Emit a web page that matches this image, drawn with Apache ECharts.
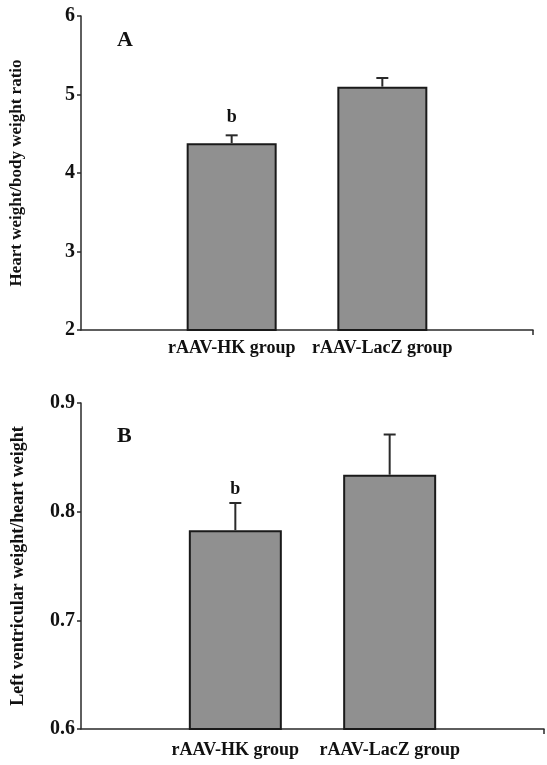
<!DOCTYPE html>
<html>
<head>
<meta charset="utf-8">
<script src="https://cdn.jsdelivr.net/npm/echarts@6/dist/echarts.min.js"></script>
<style>
html,body{margin:0;padding:0;background:#fff;}
#chart{width:547px;height:765px;}
</style>
</head>
<body>
<div id="chart"></div>
<script>
// Data
const categories = ['', 'rAAV-HK group', 'rAAV-LacZ group', ''];
const heartBodyRatio = ['-', 4.38, 5.10, '-'];
const heartBodyErr = [0, 0.10, 0.11, 0];
const lvHeartRatio = ['-', 0.783, 0.834, '-'];
const lvHeartErr = [0, 0.025, 0.037, 0];
const sigMarks = ['', 'b', '', ''];
const ticksA = [2, 3, 4, 5, 6];
const ticksB = [0.6, 0.7, 0.8, 0.9];

const FONT = '"Liberation Serif", "Times New Roman", serif';
const AXIS_COLOR = '#2a2a2a';
const BAR_COLOR = '#909090';

function errSeries(xi, yi, vals, errs, labelY) {
  return {
    type: 'custom',
    xAxisIndex: xi, yAxisIndex: yi,
    z: 5,
    data: vals.map((v, i) => [i, v, errs[i]]),
    renderItem: function (params, api) {
      const idx = api.value(0);
      const v = api.value(1);
      if (isNaN(v)) return null;
      const e = api.value(2);
      const base = api.coord([idx, v]);
      const top = api.coord([idx, v + e]);
      const children = [
        {type: 'line', shape: {x1: base[0], y1: base[1], x2: top[0], y2: top[1]},
         style: {stroke: AXIS_COLOR, lineWidth: 2}},
        {type: 'line', shape: {x1: top[0] - 6, y1: top[1], x2: top[0] + 6, y2: top[1]},
         style: {stroke: AXIS_COLOR, lineWidth: 2}}
      ];
      const mark = sigMarks[params.dataIndex];
      if (mark) {
        children.push({type: 'text', x: top[0], y: top[1] - labelY,
          style: {text: mark, font: 'bold 18px ' + FONT, fill: '#111', align: 'center', verticalAlign: 'middle'}});
      }
      return {type: 'group', children: children};
    }
  };
}

function xAxisDef(gi, margin) {
  return {
    type: 'category', gridIndex: gi, data: categories, boundaryGap: false,
    axisLine: {lineStyle: {color: AXIS_COLOR, width: 1.5}},
    axisTick: {show: true, interval: function (i) { return i === 3; }, length: 5, lineStyle: {color: AXIS_COLOR, width: 1.5}},
    axisLabel: {color: '#111', fontFamily: FONT, fontWeight: 'bold', fontSize: 18, margin: margin, interval: 0},
    splitLine: {show: false}
  };
}

function yAxisDef(gi, min, max, interval, name, nameGap, nameSize, dec) {
  return {
    type: 'value', gridIndex: gi, min: min, max: max, interval: interval,
    name: name, nameLocation: 'middle', nameGap: nameGap, nameRotate: 90,
    nameTextStyle: {color: '#111', fontFamily: FONT, fontWeight: 'bold', fontSize: nameSize},
    axisLine: {show: true, lineStyle: {color: AXIS_COLOR, width: 1.5}},
    axisTick: {show: true, length: 4, lineStyle: {color: AXIS_COLOR, width: 1.5}},
    axisLabel: {color: '#111', fontFamily: FONT, fontWeight: 'bold', fontSize: 20, margin: 6,
      formatter: v => dec ? v.toFixed(1) : String(v)},
    splitLine: {show: false}
  };
}

const chart = echarts.init(document.getElementById('chart'), null, {renderer: 'canvas'});
chart.setOption({
  backgroundColor: '#fff',
  animation: false,
  title: [
    {text: 'A', left: 112, top: 24, textStyle: {fontFamily: FONT, fontWeight: 'bold', fontSize: 22, color: '#111'}},
    {text: 'B', left: 112, top: 420, textStyle: {fontFamily: FONT, fontWeight: 'bold', fontSize: 22, color: '#111'}}
  ],
  grid: [
    {left: 81, top: 16, width: 452, height: 314},
    {left: 81, top: 403, width: 468, height: 326}
  ],
  xAxis: [xAxisDef(0, 9), xAxisDef(1, 12)],
  yAxis: [
    yAxisDef(0, ticksA[0], ticksA[ticksA.length - 1], 1, 'Heart weight/body weight ratio', 56, 17, false),
    yAxisDef(1, ticksB[0], ticksB[ticksB.length - 1], 0.1, 'Left ventricular weight/heart weight', 54, 18, true)
  ],
  series: [
    {type: 'bar', xAxisIndex: 0, yAxisIndex: 0, data: heartBodyRatio, barWidth: 90,
     itemStyle: {color: BAR_COLOR, borderColor: '#1a1a1a', borderWidth: 2}},
    {type: 'bar', xAxisIndex: 1, yAxisIndex: 1, data: lvHeartRatio, barWidth: 93,
     itemStyle: {color: BAR_COLOR, borderColor: '#1a1a1a', borderWidth: 2}},
    errSeries(0, 0, heartBodyRatio, heartBodyErr, 18),
    errSeries(1, 1, lvHeartRatio, lvHeartErr, 14)
  ]
});
</script>
</body>
</html>
